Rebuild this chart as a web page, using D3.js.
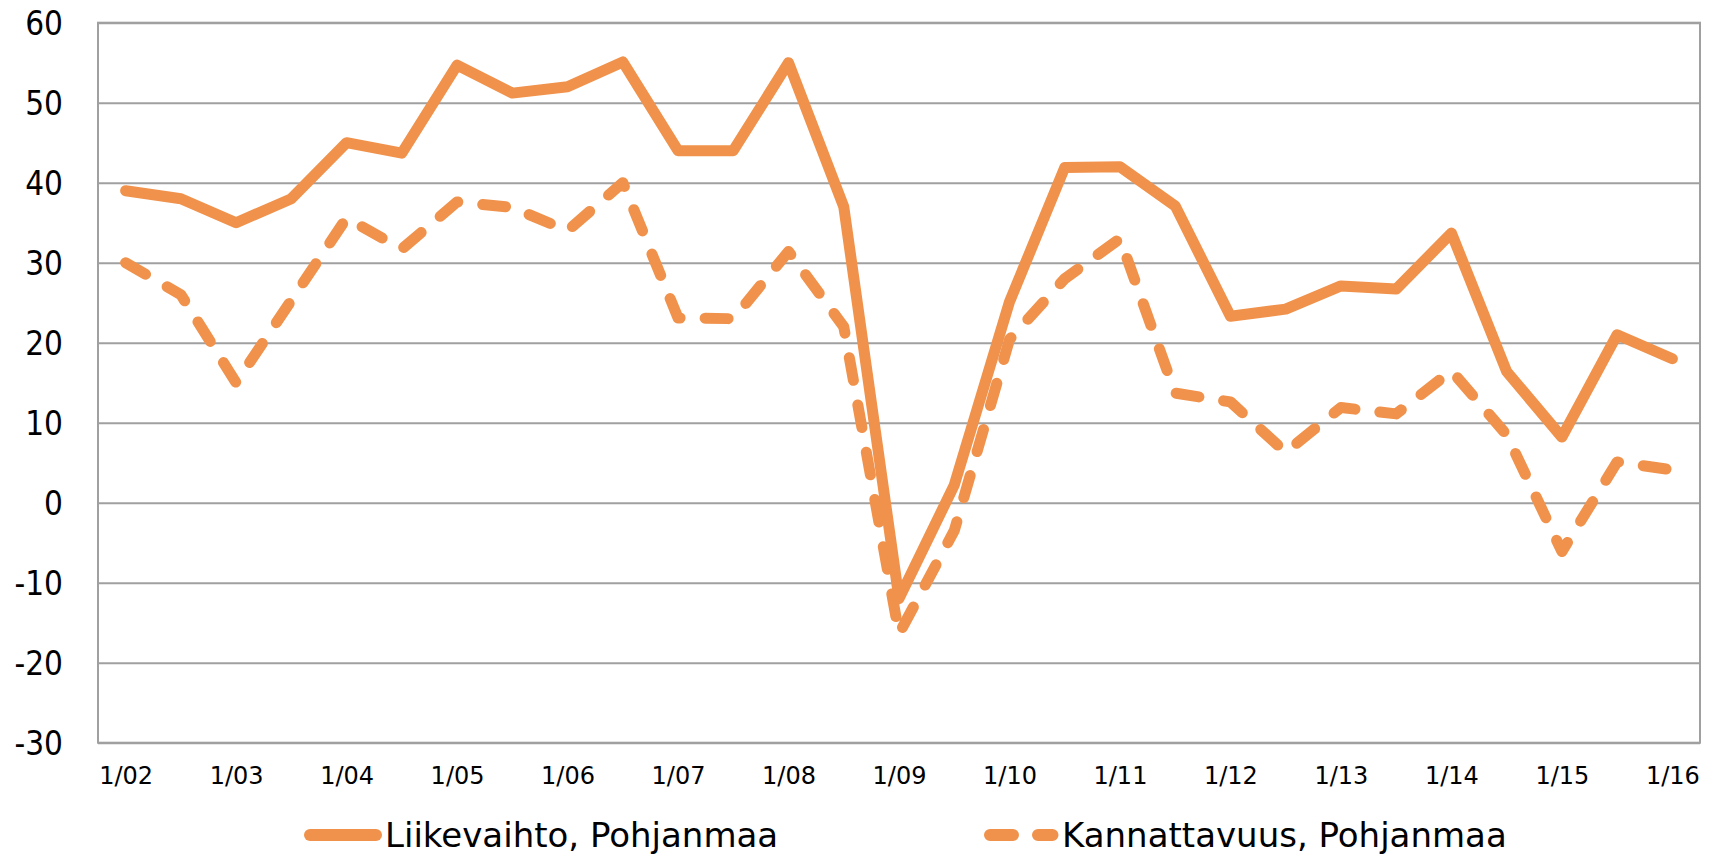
<!DOCTYPE html>
<html>
<head>
<meta charset="utf-8">
<script src="https://cdn.jsdelivr.net/npm/d3@7"></script>
<style>
  body { margin: 0; background: #fff; }
  .axis text { fill: #000; }
</style>
</head>
<body>
<svg id="chart"></svg>
<script>
// half-year periods, label shown for the January ones
const periods = ['1/02','7/02','1/03','7/03','1/04','7/04','1/05','7/05','1/06','7/06',
  '1/07','7/07','1/08','7/08','1/09','7/09','1/10','7/10','1/11','7/11',
  '1/12','7/12','1/13','7/13','1/14','7/14','1/15','7/15','1/16'];
const liikevaihto = [39, 38, 35, 38, 45, 43.7, 54.7, 51.2, 52, 55.1,
  44, 44, 55, 37, -12, 2.2, 25.1, 41.9, 42, 37.1,
  23.3, 24.2, 27.1, 26.7, 33.7, 16.4, 8.2, 21, 18];
const kannattavuus = [30, 26, 15, 25.3, 35.6, 31.7, 37.6, 36.9, 34, 40,
  23.1, 23, 31.4, 22, -16.4, -3.5, 20.4, 28, 33, 13.7,
  12.6, 6.3, 11.9, 11.1, 16.5, 8.5, -6.1, 5.1, 4.1];
const yTicks = [-30, -20, -10, 0, 10, 20, 30, 40, 50, 60];
const seriesNames = ['Liikevaihto, Pohjanmaa', 'Kannattavuus, Pohjanmaa'];

const config = {
  width: 1714,
  height: 854,
  margin: {top: 22.7, right: 14, bottom: 111.3, left: 98},
  color: '#F0924B',
  grid: '#a0a0a0',
  lineWidth: 11,
  dash: '23,25'
};

const width = config.width - config.margin.left - config.margin.right;
const height = config.height - config.margin.top - config.margin.bottom;

const svg = d3.select('#chart')
    .attr('width', config.width)
    .attr('height', config.height);

const chart = svg.append('g')
    .attr('transform', `translate(${config.margin.left},${config.margin.top})`);

const xScale = d3.scalePoint()
    .domain(periods)
    .range([0, width])
    .padding(0.5);

const yScale = d3.scaleLinear()
    .domain([-30, 60])
    .range([height, 0]);

// gridlines + y labels (plain hyphen for negatives)
const yAxis = d3.axisLeft(yScale)
    .tickValues(yTicks)
    .tickSize(-width)
    .tickPadding(35)
    .tickFormat(d => String(d));

const yAxisG = chart.append('g')
    .attr('class', 'axis y-axis')
    .call(yAxis);
yAxisG.select('.domain').remove();
yAxisG.selectAll('line')
    .attr('stroke', config.grid)
    .attr('stroke-width', 2);
yAxisG.selectAll('text')
    .attr('font-family', '"DejaVu Sans Condensed", "DejaVu Sans", sans-serif')
    .attr('font-size', 33)
    .attr('dy', '0.36em');

// plot border
chart.append('rect')
    .attr('width', width)
    .attr('height', height)
    .attr('fill', 'none')
    .attr('stroke', config.grid)
    .attr('stroke-width', 2);

const xAxis = d3.axisBottom(xScale)
    .tickValues(periods.filter(d => d.startsWith('1/')))
    .tickSize(0)
    .tickPadding(24);

const xAxisG = chart.append('g')
    .attr('class', 'axis x-axis')
    .attr('transform', `translate(0,${height})`)
    .call(xAxis);
xAxisG.select('.domain').remove();
xAxisG.selectAll('text')
    .attr('font-family', '"DejaVu Sans", sans-serif')
    .attr('font-size', 24);

const line = d3.line()
    .x((d, i) => xScale(periods[i]))
    .y(d => yScale(d));

chart.append('path')
    .datum(kannattavuus)
    .attr('d', line)
    .attr('fill', 'none')
    .attr('stroke', config.color)
    .attr('stroke-width', config.lineWidth)
    .attr('stroke-linecap', 'round')
    .attr('stroke-linejoin', 'round')
    .attr('stroke-dasharray', config.dash);

chart.append('path')
    .datum(liikevaihto)
    .attr('d', line)
    .attr('fill', 'none')
    .attr('stroke', config.color)
    .attr('stroke-width', config.lineWidth)
    .attr('stroke-linecap', 'round')
    .attr('stroke-linejoin', 'round');

// legend
const legendItems = [
  {name: seriesNames[0], x: 310, x2: 376, dash: null, textX: 385},
  {name: seriesNames[1], x: 990, x2: 1052.5, dash: config.dash, textX: 1062}
];

const legend = svg.append('g').attr('class', 'legend');
const item = legend.selectAll('g')
    .data(legendItems)
  .join('g');

item.append('line')
    .attr('x1', d => d.x)
    .attr('x2', d => d.x2)
    .attr('y1', 835)
    .attr('y2', 835)
    .attr('stroke', config.color)
    .attr('stroke-width', 12)
    .attr('stroke-linecap', 'round')
    .attr('stroke-dasharray', d => d.dash);

item.append('text')
    .attr('x', d => d.textX)
    .attr('y', 846.5)
    .attr('font-family', '"DejaVu Sans", sans-serif')
    .attr('font-size', 34)
    .attr('fill', '#000')
    .text(d => d.name);
</script>
</body>
</html>
